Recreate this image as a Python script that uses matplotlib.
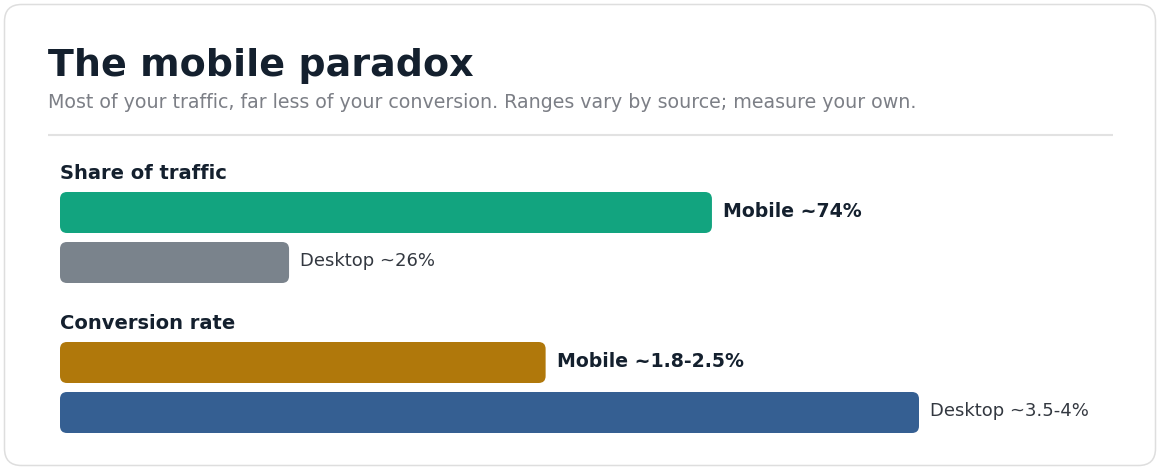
import matplotlib
matplotlib.use("Agg")
import matplotlib.pyplot as plt
from matplotlib.patches import FancyBboxPatch

plt.rcParams["font.family"] = ["DejaVu Sans"]

# ---- data ----
title = "The mobile paradox"
subtitle = "Most of your traffic, far less of your conversion. Ranges vary by source; measure your own."
traffic_header = "Share of traffic"
traffic_labels = ["Mobile ~74%", "Desktop ~26%"]
traffic_values = [74, 26]
conv_header = "Conversion rate"
conv_labels = ["Mobile ~1.8-2.5%", "Desktop ~3.5-4%"]
conv_values = [2.12, 3.75]

# ---- style ----
W, H = 1160, 470
DPI = 100
c_title = "#14202e"
c_sub = "#7c7f86"
c_label = "#333840"
traffic_colors = ["#12a47f", "#7a838c"]
conv_colors = ["#b0780b", "#355f92"]
label_bold = [True, False]
label_size = [13.55, 13.0]

fig = plt.figure(figsize=(W / DPI, H / DPI), dpi=DPI, facecolor="white")

bg = fig.add_axes([0, 0, 1, 1])
bg.set_xlim(0, W)
bg.set_ylim(H, 0)
bg.axis("off")
card = FancyBboxPatch((4.5, 4.5), W - 9, H - 9,
                      boxstyle="round,pad=0,rounding_size=17",
                      facecolor="white", edgecolor="#dedede", linewidth=1.1)
bg.add_patch(card)
bg.plot([48, 1113], [134.5, 134.5], color="#e2e2e2", linewidth=1.5,
        solid_capstyle="butt")

bg.text(48, 76.5, title, fontsize=27.4, fontweight="bold", color=c_title,
        va="baseline", ha="left")
bg.text(48, 108, subtitle, fontsize=13.7, color=c_sub, va="baseline", ha="left")
bg.text(60, 179, traffic_header, fontsize=14, fontweight="bold",
        color=c_title, va="baseline", ha="left")
bg.text(60, 329, conv_header, fontsize=14, fontweight="bold",
        color=c_title, va="baseline", ha="left")


def bar_section(top_px, width_px, xmax, values, labels, colors):
    left_px = 60
    height_px = 100
    ax = fig.add_axes([left_px / W, 1 - (top_px + height_px) / H,
                       width_px / W, height_px / H])
    ax.set_xlim(0, xmax)
    ax.set_ylim(len(values) - 0.5, -0.5)
    ax.axis("off")
    xu_per_px = xmax / width_px
    yu_per_px = len(values) / height_px
    r_px = 7
    bh = 0.82
    for i, (v, lab, col) in enumerate(zip(values, labels, colors)):
        p = FancyBboxPatch((0, i - bh / 2), v, bh,
                           boxstyle=f"round,pad=0,rounding_size={r_px * xu_per_px}",
                           mutation_aspect=yu_per_px / xu_per_px,
                           facecolor=col, edgecolor="none")
        ax.add_patch(p)
        ax.annotate(lab, (v, i), xytext=(8, 0.9), textcoords="offset points",
                    va="center", ha="left", fontsize=label_size[i],
                    fontweight="bold" if label_bold[i] else "normal",
                    color=c_title if label_bold[i] else c_label,
                    annotation_clip=False)
    return ax


bar_section(187.5, 881, 100, traffic_values, traffic_labels, traffic_colors)
bar_section(337.5, 859, max(conv_values), conv_values, conv_labels, conv_colors)

fig.savefig("out.png", dpi=DPI, facecolor="white")
